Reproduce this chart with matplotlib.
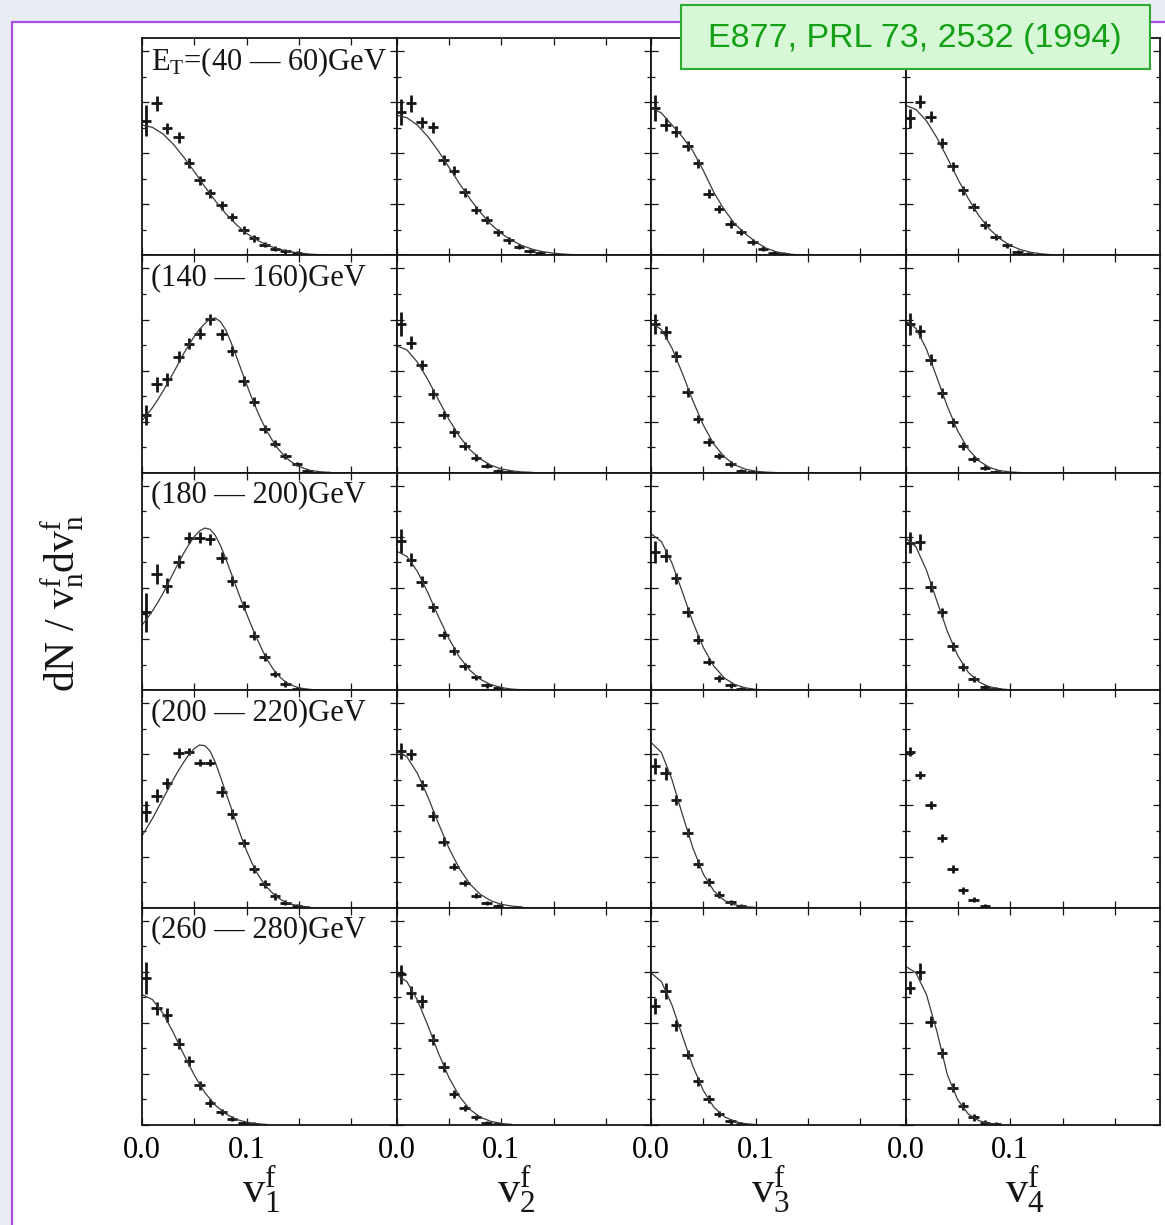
import matplotlib
matplotlib.use('Agg')
import matplotlib.pyplot as plt
from matplotlib.patches import Rectangle
from matplotlib.ticker import MultipleLocator

plt.rcParams['font.family'] = ['Liberation Serif', 'DejaVu Serif']
plt.rcParams['mathtext.fontset'] = 'custom'
plt.rcParams['mathtext.rm'] = 'Liberation Serif'
plt.rcParams['mathtext.it'] = 'Liberation Serif:italic'
plt.rcParams['mathtext.bf'] = 'Liberation Serif:bold'

# bin centres of the measured v_n^f distributions and grids of the fit curves
v_bins = [0.004, 0.014, 0.024, 0.035, 0.045, 0.055, 0.065, 0.076, 0.086, 0.097,
          0.107, 0.117, 0.127, 0.137, 0.148, 0.158]
v_fit = [0.00, 0.01, 0.02, 0.03, 0.04, 0.05, 0.06, 0.07, 0.08, 0.09,
         0.10, 0.11, 0.12, 0.13, 0.14, 0.15, 0.16, 0.17, 0.18]
v_fit_fine = [0.000, 0.005, 0.010, 0.015, 0.020, 0.025, 0.030, 0.035, 0.040, 0.045,
              0.050, 0.055, 0.060, 0.065, 0.070, 0.075, 0.080, 0.085, 0.090, 0.095,
              0.100, 0.105, 0.110, 0.115, 0.120, 0.125, 0.130, 0.135, 0.140, 0.145,
              0.150, 0.155, 0.160, 0.165, 0.170, 0.175, 0.180]

et_labels = [r'E$_\mathrm{T}$=(40 — 60)GeV', '(140 — 160)GeV', '(180 — 200)GeV',
             '(200 — 220)GeV', '(260 — 280)GeV']
harmonics = ['1', '2', '3', '4']

# one list per harmonic v1..v4 (heights as fraction of the panel)
pts_40_60 = [
    [0.62, 0.70, 0.585, 0.544, 0.424, 0.346, 0.286, 0.230, 0.175, 0.115, 0.078, 0.05, 0.03, 0.018, 0.01],
    [0.66, 0.70, 0.613, 0.59, 0.438, 0.39, 0.29, 0.207, 0.161, 0.106, 0.069, 0.04, 0.02, 0.01],
    [0.676, 0.60, 0.568, 0.502, 0.423, 0.284, 0.215, 0.146, 0.107, 0.061, 0.031, 0.012, 0.005],
    [0.63, 0.706, 0.637, 0.517, 0.41, 0.30, 0.223, 0.138, 0.084, 0.046, 0.015, 0.006],
]
err_40_60 = [
    [0.07, 0.035, 0.025, 0.025, 0.022, 0.02, 0.02, 0.02, 0.018, 0.018, 0.015, 0.012, 0.012, 0.01, 0.01],
    [0.06, 0.04, 0.025, 0.025, 0.022, 0.02, 0.02, 0.018, 0.018, 0.015, 0.015, 0.012, 0.01, 0.01],
    [0.06, 0.03, 0.025, 0.022, 0.02, 0.02, 0.018, 0.018, 0.015, 0.015, 0.012, 0.01, 0.01],
    [0.045, 0.03, 0.025, 0.022, 0.02, 0.02, 0.018, 0.018, 0.015, 0.012, 0.01, 0.01],
]
fit_40_60 = [
    [0.60, 0.589, 0.559, 0.511, 0.451, 0.385, 0.316, 0.251, 0.192, 0.142, 0.101, 0.070, 0.046, 0.030, 0.018, 0.011, 0.006, 0.003],
    [0.645, 0.633, 0.599, 0.546, 0.480, 0.406, 0.331, 0.261, 0.198, 0.144, 0.101, 0.069, 0.045, 0.028, 0.017, 0.010, 0.006, 0.003],
    [0.68, 0.655, 0.60, 0.545, 0.48, 0.39, 0.29, 0.21, 0.145, 0.10, 0.062, 0.033, 0.016, 0.007, 0.003, 0.001],
    [0.69, 0.671, 0.619, 0.541, 0.448, 0.351, 0.261, 0.183, 0.122, 0.077, 0.046, 0.026, 0.014, 0.007, 0.003, 0.001],
]

pts_140_160 = [
    [0.266, 0.407, 0.43, 0.533, 0.594, 0.64, 0.707, 0.638, 0.561, 0.423, 0.327, 0.20, 0.134, 0.077, 0.039, 0.008],
    [0.685, 0.598, 0.496, 0.363, 0.266, 0.186, 0.124, 0.07, 0.032, 0.009, 0.004],
    [0.685, 0.647, 0.535, 0.37, 0.247, 0.143, 0.078, 0.04, 0.009, 0.004],
    [0.685, 0.65, 0.521, 0.367, 0.232, 0.124, 0.063, 0.024, 0.005],
]
err_140_160 = [
    [0.046, 0.035, 0.03, 0.025, 0.025, 0.025, 0.025, 0.025, 0.022, 0.022, 0.02, 0.018, 0.015, 0.012, 0.01, 0.01],
    [0.054, 0.03, 0.025, 0.022, 0.02, 0.02, 0.018, 0.015, 0.012, 0.01, 0.01],
    [0.046, 0.03, 0.025, 0.022, 0.02, 0.018, 0.015, 0.012, 0.01, 0.01],
    [0.05, 0.03, 0.025, 0.022, 0.02, 0.018, 0.015, 0.012, 0.01],
]
fit_140_160 = [
    [0.24, 0.268, 0.30, 0.336, 0.375, 0.417, 0.46, 0.505, 0.55, 0.59, 0.628, 0.66, 0.687, 0.708,
     0.712, 0.695, 0.657, 0.60, 0.537, 0.47, 0.405, 0.342, 0.285, 0.232, 0.185, 0.145, 0.11,
     0.083, 0.06, 0.043, 0.03, 0.02, 0.012, 0.008, 0.005, 0.003, 0.002],
    [0.585, 0.565, 0.509, 0.428, 0.336, 0.246, 0.168, 0.107, 0.064, 0.035, 0.018, 0.009, 0.004, 0.002],
    [0.69, 0.659, 0.574, 0.457, 0.331, 0.219, 0.132, 0.073, 0.036, 0.017, 0.007, 0.003, 0.001],
    [0.70, 0.664, 0.569, 0.438, 0.305, 0.191, 0.108, 0.055, 0.025, 0.010, 0.004, 0.001],
]

pts_180_200 = [
    [0.358, 0.534, 0.48, 0.59, 0.702, 0.702, 0.694, 0.61, 0.503, 0.389, 0.251, 0.151, 0.075, 0.029, 0.006],
    [0.687, 0.60, 0.499, 0.381, 0.254, 0.182, 0.11, 0.06, 0.022, 0.008],
    [0.636, 0.618, 0.514, 0.361, 0.233, 0.132, 0.055, 0.022, 0.006],
    [0.679, 0.682, 0.477, 0.358, 0.202, 0.106, 0.052, 0.014, 0.004],
]
err_180_200 = [
    [0.09, 0.045, 0.035, 0.03, 0.025, 0.025, 0.025, 0.025, 0.022, 0.022, 0.02, 0.018, 0.015, 0.012, 0.01],
    [0.054, 0.03, 0.025, 0.022, 0.02, 0.018, 0.015, 0.012, 0.01, 0.01],
    [0.05, 0.03, 0.025, 0.022, 0.02, 0.018, 0.015, 0.012, 0.01],
    [0.05, 0.035, 0.025, 0.022, 0.02, 0.018, 0.015, 0.012, 0.01],
]
fit_180_200 = [
    [0.30, 0.33, 0.365, 0.403, 0.445, 0.492, 0.54, 0.587, 0.632, 0.672, 0.707, 0.733, 0.746,
     0.74, 0.712, 0.665, 0.605, 0.54, 0.475, 0.41, 0.35, 0.29, 0.235, 0.183, 0.137, 0.099,
     0.068, 0.046, 0.03, 0.019, 0.011, 0.007, 0.004, 0.002, 0.001],
    [0.64, 0.615, 0.546, 0.448, 0.339, 0.237, 0.153, 0.092, 0.050, 0.026, 0.012, 0.005, 0.002],
    [0.72, 0.683, 0.585, 0.451, 0.313, 0.196, 0.111, 0.056, 0.026, 0.011, 0.004, 0.001],
    [0.70, 0.659, 0.552, 0.410, 0.270, 0.158, 0.082, 0.038, 0.016, 0.006, 0.002],
]

pts_200_220 = [
    [0.442, 0.514, 0.572, 0.71, 0.717, 0.667, 0.667, 0.534, 0.431, 0.297, 0.177, 0.11, 0.052, 0.022, 0.006],
    [0.72, 0.705, 0.564, 0.422, 0.304, 0.189, 0.113, 0.055, 0.022, 0.006],
    [0.651, 0.618, 0.495, 0.345, 0.202, 0.116, 0.06, 0.024, 0.006],
    [0.717, 0.61, 0.472, 0.32, 0.178, 0.079, 0.037, 0.006],
]
err_200_220 = [
    [0.05, 0.03, 0.025, 0.022, 0.015, 0.015, 0.015, 0.025, 0.022, 0.02, 0.02, 0.018, 0.015, 0.012, 0.01],
    [0.035, 0.025, 0.025, 0.022, 0.02, 0.018, 0.015, 0.012, 0.01, 0.01],
    [0.035, 0.03, 0.025, 0.022, 0.02, 0.018, 0.015, 0.012, 0.01],
    [0.02, 0.02, 0.02, 0.02, 0.018, 0.015, 0.012, 0.01],
]
fit_200_220 = [
    [0.33, 0.37, 0.41, 0.455, 0.50, 0.545, 0.59, 0.632, 0.67, 0.705, 0.732, 0.748, 0.745,
     0.72, 0.668, 0.60, 0.53, 0.46, 0.39, 0.322, 0.26, 0.205, 0.158, 0.12, 0.09, 0.065,
     0.045, 0.03, 0.02, 0.013, 0.008, 0.005, 0.003],
    [0.72, 0.693, 0.617, 0.509, 0.388, 0.274, 0.180, 0.109, 0.061, 0.032, 0.015, 0.007, 0.003],
    [0.76, 0.713, 0.589, 0.428, 0.274, 0.154, 0.077, 0.033, 0.013, 0.004, 0.001],
    None,
]

pts_260_280 = [
    [0.677, 0.536, 0.506, 0.373, 0.294, 0.183, 0.101, 0.06, 0.029, 0.009, 0.004],
    [0.693, 0.608, 0.57, 0.393, 0.266, 0.143, 0.078, 0.035, 0.009, 0.004],
    [0.547, 0.616, 0.459, 0.324, 0.201, 0.121, 0.051, 0.017, 0.005],
    [0.631, 0.705, 0.475, 0.332, 0.171, 0.086, 0.035, 0.009, 0.003],
]
err_260_280 = [
    [0.073, 0.03, 0.03, 0.025, 0.022, 0.02, 0.018, 0.015, 0.012, 0.01, 0.01],
    [0.045, 0.03, 0.03, 0.025, 0.022, 0.02, 0.015, 0.012, 0.01, 0.01],
    [0.035, 0.035, 0.025, 0.022, 0.02, 0.018, 0.015, 0.012, 0.01],
    [0.03, 0.04, 0.025, 0.022, 0.02, 0.018, 0.015, 0.012, 0.01],
]
fit_260_280 = [
    [0.60, 0.577, 0.514, 0.424, 0.323, 0.229, 0.149, 0.091, 0.051, 0.026, 0.013, 0.006, 0.002],
    [0.69, 0.659, 0.574, 0.457, 0.331, 0.219, 0.132, 0.072, 0.036, 0.017, 0.007, 0.003],
    [0.70, 0.659, 0.552, 0.410, 0.270, 0.158, 0.082, 0.038, 0.016, 0.006, 0.002],
    [0.73, 0.70, 0.60, 0.43, 0.23, 0.115, 0.05, 0.02, 0.007, 0.002],
]

rows = [(pts_40_60, err_40_60, fit_40_60),
        (pts_140_160, err_140_160, fit_140_160),
        (pts_180_200, err_180_200, fit_180_200),
        (pts_200_220, err_200_220, fit_200_220),
        (pts_260_280, err_260_280, fit_260_280)]

W, H = 1165, 1225
fig = plt.figure(figsize=(W / 100, H / 100), dpi=100, facecolor='#eaecf4')

# white slide area with the purple frame
fig.patches.append(Rectangle((12 / W, -0.1), 1.2, 1.1 - 22 / H, transform=fig.transFigure,
                             facecolor='white', edgecolor='#a84ee0', lw=1.6, zorder=-5))

gs = fig.add_gridspec(5, 4, left=142 / W, right=1160 / W, top=1 - 38 / H,
                      bottom=1 - 1125 / H, wspace=0, hspace=0)

ink = '#151515'
for r, (pts, errs, fits) in enumerate(rows):
    for c in range(4):
        ax = fig.add_subplot(gs[r, c])
        y = pts[c]
        ax.errorbar(v_bins[:len(y)], y, yerr=errs[c], xerr=0.005, fmt='none',
                    ecolor=ink, elinewidth=2.0, capsize=0)
        fit = fits[c]
        if fit is not None:
            grid = v_fit_fine if len(fit) > len(v_fit) else v_fit
            ax.plot(grid[:len(fit)], fit, color='#3a3a3a', lw=0.9)
        ax.set_xlim(0, 0.243)
        ax.set_ylim(0, 1)
        ax.set_xticks([0, 0.05, 0.1, 0.15, 0.2], ['0.0', '', '0.1', '', ''])
        ax.yaxis.set_major_locator(MultipleLocator(0.235))
        ax.yaxis.set_minor_locator(MultipleLocator(0.1175))
        ax.tick_params(which='both', direction='in', top=True, right=True,
                       width=0.9, color=ink, labelleft=False,
                       labelbottom=(r == 4), labelsize=22, pad=8)
        ax.tick_params(which='major', length=5)
        ax.tick_params(which='minor', length=3)
        for s in ax.spines.values():
            s.set_linewidth(1.3)
            s.set_color(ink)
        if c == 0:
            ax.text(0.035, 0.965, et_labels[r], transform=ax.transAxes,
                    ha='left', va='top', fontsize=22, color=ink)
        if r == 4:
            ax.text(0.47, -0.30, r'$\mathrm{v}_{%s}^{\mathrm{f}}$' % harmonics[c],
                    transform=ax.transAxes, ha='center', va='center', fontsize=32, color=ink)

fig.text(62 / W, 1 - 603 / H, r'dN / $\mathrm{v}_\mathrm{n}^\mathrm{f}\mathrm{dv}_\mathrm{n}^\mathrm{f}$',
         rotation=90, ha='center', va='center', fontsize=30, color=ink)

# reference tag
fig.patches.append(Rectangle((681 / W, 1 - 69 / H), (1150 - 681) / W, 64 / H,
                             transform=fig.transFigure, facecolor='#d6f8d6',
                             edgecolor='#2eaa2e', lw=1.5, zorder=10))
fig.text(915 / W, 1 - 38 / H, 'E877, PRL 73, 2532 (1994)', family=['Liberation Sans', 'DejaVu Sans'],
         fontsize=24.5, color='#14a014', ha='center', va='center', zorder=11)

fig.savefig('out.png', dpi=100, facecolor=fig.get_facecolor())
